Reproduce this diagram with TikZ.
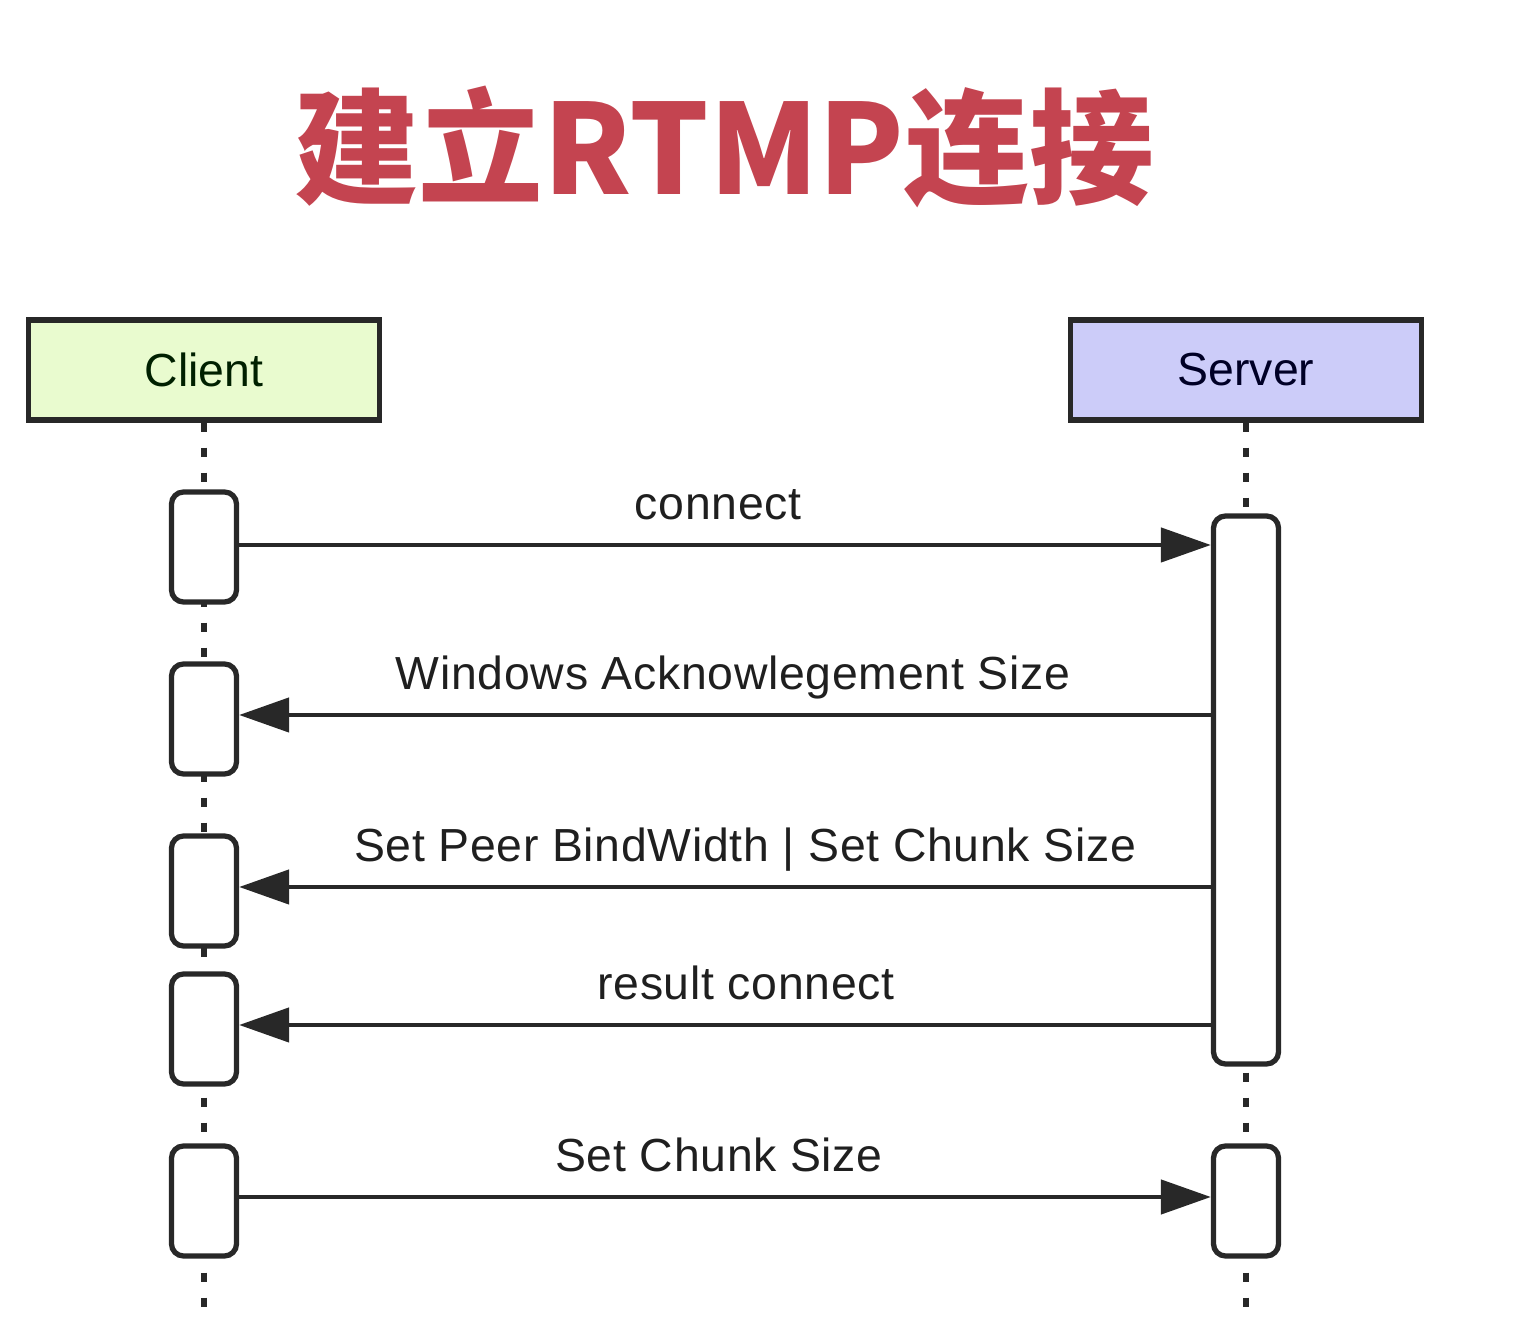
\documentclass[tikz,border=0pt]{standalone}
\usepackage{fontspec}
\setmainfont{Liberation Sans}
\newfontfamily\cjk{Noto Sans CJK SC}
\usetikzlibrary{arrows.meta}
\definecolor{titlered}{RGB}{196,68,80}
\definecolor{clientgreen}{RGB}{233,251,207}
\definecolor{serverblue}{RGB}{204,204,249}
\definecolor{ink}{RGB}{40,40,40}
\begin{document}
\begin{tikzpicture}[
    actor/.style={draw=ink,line width=1.5pt,minimum width=3.51cm,minimum height=1cm,
        font=\fontsize{13.2pt}{16pt}\selectfont},
    activation/.style={draw=ink,fill=white,line width=1.5pt,rounded corners=0.12cm,
        minimum width=0.65cm,minimum height=1.1cm},
    lifeline/.style={draw=ink,line width=1.5pt,dash pattern=on 0.09cm off 0.16cm},
    msg/.style={draw=ink,line width=1.3pt,-{Triangle[length=0.5cm,width=0.34cm]}},
    msglabel/.style={midway,above=0.23cm,inner sep=0pt,text depth=0pt,text=black!88,
        font=\addfontfeatures{LetterSpace=1.5}\fontsize{13.2pt}{16pt}\selectfont}
]
        \useasboundingbox (0,0) rectangle (15.24,-13.32);
        \node[text=titlered,font=\cjk\bfseries\fontsize{35.5pt}{40pt}\selectfont] (title) at (7.24,-1.47) {建立RTMP连接};
        % actors
        \node[actor,fill=clientgreen,text=black!75!green!50!black] (client) at (2.04,-3.70) {Client};
        \node[actor,fill=serverblue,text=black!70!blue!50!black] (server) at (12.46,-3.70) {Server};
        \coordinate (cend) at (2.04,-13.22);
        \coordinate (send) at (12.46,-13.22);
        \draw[lifeline] (client.south) -- (cend);
        \draw[lifeline] (server.south) -- (send);
        % activations
        \node[activation] (ca1) at (2.04,-5.47) {};
        \node[activation] (ca2) at (2.04,-7.19) {};
        \node[activation] (ca3) at (2.04,-8.91) {};
        \node[activation] (ca4) at (2.04,-10.29) {};
        \node[activation] (ca5) at (2.04,-12.01) {};
        \node[activation,minimum height=5.48cm] (sa1) at (12.46,-7.90) {};
        \node[activation] (sa2) at (12.46,-12.01) {};
        % messages
        \draw[msg] ([yshift=0.02cm]ca1.east) -- ([yshift=0.02cm]ca1.east -| sa1.west) node[msglabel,xshift=-0.07cm]{connect};
        \draw[msg] ([yshift=0.04cm]ca2.east -| sa1.west) -- ([yshift=0.04cm]ca2.east) node[msglabel,xshift=0.08cm]{Windows Acknowlegement Size};
        \draw[msg] ([yshift=0.04cm]ca3.east -| sa1.west) -- ([yshift=0.04cm]ca3.east) node[msglabel,xshift=0.2cm]{Set Peer BindWidth | Set Chunk Size};
        \draw[msg] ([yshift=0.04cm]ca4.east -| sa1.west) -- ([yshift=0.04cm]ca4.east) node[msglabel,xshift=0.21cm]{result connect};
        \draw[msg] ([yshift=0.04cm]ca5.east) -- ([yshift=0.04cm]sa2.west) node[msglabel,xshift=-0.06cm]{Set Chunk Size};
\end{tikzpicture}
\end{document}
